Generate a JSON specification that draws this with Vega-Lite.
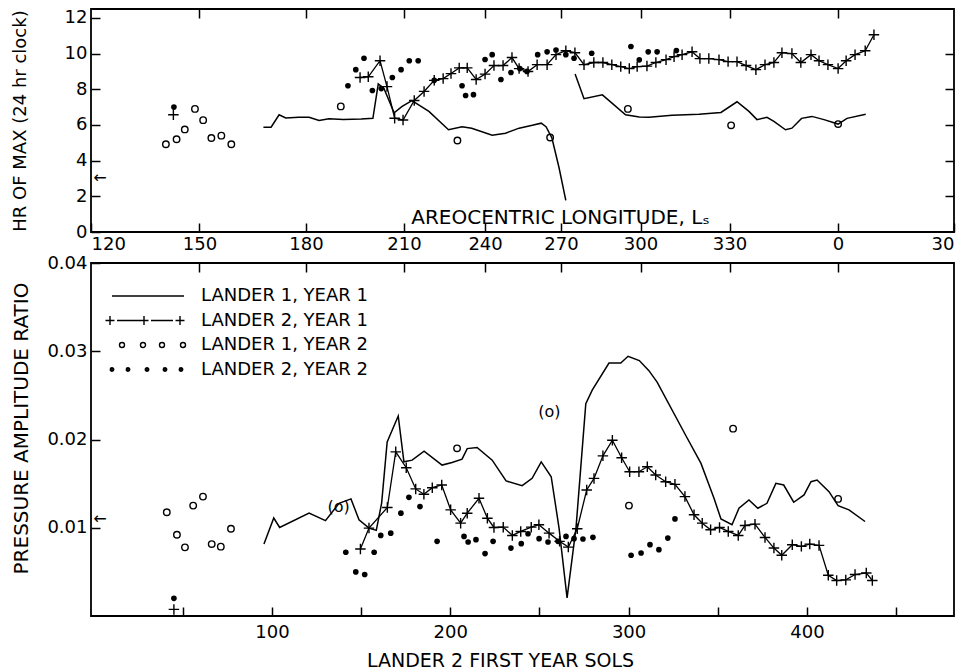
{
  "$schema": "https://vega.github.io/schema/vega-lite/v6.json",
  "autosize": {"type": "pad"},
  "padding": {"left": 10, "top": 7, "right": 5, "bottom": 5},
  "background": "white",
  "config": {
    "font": "DejaVu Sans",
    "view": {"stroke": "black", "strokeWidth": 1.8},
    "axis": {"domain": false, "grid": false, "labelColor": "black", "titleColor": "black", "tickColor": "black", "labelFont": "DejaVu Sans", "titleFont": "DejaVu Sans", "labelFontSize": 18, "titleFontSize": 18, "titleFontWeight": "normal", "tickWidth": 1.5, "labelOverlap": false, "labelBound": false},
    "text": {"font": "DejaVu Sans", "color": "black"}
  },
  "datasets": {
    "top": [
      {"s":95.2,"v":5.87,"k":"L1Y1","g":"a"},{"s":99.5,"v":5.87,"k":"L1Y1","g":"a"},{"s":104,"v":6.57,"k":"L1Y1","g":"a"},{"s":107.7,"v":6.39,"k":"L1Y1","g":"a"},{"s":115,"v":6.43,"k":"L1Y1","g":"a"},{"s":120.8,"v":6.43,"k":"L1Y1","g":"a"},{"s":126.4,"v":6.25,"k":"L1Y1","g":"a"},{"s":132,"v":6.35,"k":"L1Y1","g":"a"},{"s":140,"v":6.3,"k":"L1Y1","g":"a"},{"s":150,"v":6.33,"k":"L1Y1","g":"a"},{"s":156.6,"v":6.37,"k":"L1Y1","g":"a"},{"s":159.6,"v":8.3,"k":"L1Y1","g":"a"},{"s":162.8,"v":8.05,"k":"L1Y1","g":"a"},{"s":168.5,"v":6.68,"k":"L1Y1","g":"a"},{"s":173,"v":7.04,"k":"L1Y1","g":"a"},{"s":178.5,"v":7.37,"k":"L1Y1","g":"a"},{"s":188,"v":6.76,"k":"L1Y1","g":"a"},{"s":199,"v":5.73,"k":"L1Y1","g":"a"},{"s":206.6,"v":5.9,"k":"L1Y1","g":"a"},{"s":212,"v":5.82,"k":"L1Y1","g":"a"},{"s":223.5,"v":5.42,"k":"L1Y1","g":"a"},{"s":231,"v":5.54,"k":"L1Y1","g":"a"},{"s":238.6,"v":5.82,"k":"L1Y1","g":"a"},{"s":246,"v":5.98,"k":"L1Y1","g":"a"},{"s":251,"v":6.1,"k":"L1Y1","g":"a"},{"s":253.7,"v":5.9,"k":"L1Y1","g":"a"},{"s":257,"v":5.27,"k":"L1Y1","g":"a"},{"s":261,"v":3.6,"k":"L1Y1","g":"a"},{"s":264.8,"v":1.77,"k":"L1Y1","g":"a"},
      {"s":270,"v":8.85,"k":"L1Y1","g":"b"},{"s":275,"v":7.47,"k":"L1Y1","g":"b"},{"s":285.3,"v":7.69,"k":"L1Y1","g":"b"},{"s":298.3,"v":6.57,"k":"L1Y1","g":"b"},{"s":306,"v":6.45,"k":"L1Y1","g":"b"},{"s":311.4,"v":6.43,"k":"L1Y1","g":"b"},{"s":324.4,"v":6.54,"k":"L1Y1","g":"b"},{"s":339.5,"v":6.6,"k":"L1Y1","g":"b"},{"s":351.8,"v":6.7,"k":"L1Y1","g":"b"},{"s":360.8,"v":7.3,"k":"L1Y1","g":"b"},{"s":367.5,"v":6.76,"k":"L1Y1","g":"b"},{"s":372,"v":6.3,"k":"L1Y1","g":"b"},{"s":377.6,"v":6.43,"k":"L1Y1","g":"b"},{"s":381.5,"v":6.2,"k":"L1Y1","g":"b"},{"s":388,"v":5.73,"k":"L1Y1","g":"b"},{"s":391.6,"v":5.82,"k":"L1Y1","g":"b"},{"s":397,"v":6.37,"k":"L1Y1","g":"b"},{"s":402.8,"v":6.48,"k":"L1Y1","g":"b"},{"s":409.6,"v":6.3,"k":"L1Y1","g":"b"},{"s":417.5,"v":6.05,"k":"L1Y1","g":"b"},{"s":422.5,"v":6.37,"k":"L1Y1","g":"b"},{"s":433,"v":6.6,"k":"L1Y1","g":"b"},
      {"s":44.7,"v":6.57,"k":"L2Y1","g":"a"},
      {"s":149.4,"v":8.66,"k":"L2Y1","g":"b"},{"s":154,"v":8.7,"k":"L2Y1","g":"b"},{"s":160.6,"v":9.6,"k":"L2Y1","g":"b"},{"s":164.5,"v":8.15,"k":"L2Y1","g":"b"},{"s":168.8,"v":6.38,"k":"L2Y1","g":"b"},{"s":173.5,"v":6.28,"k":"L2Y1","g":"b"},{"s":179.8,"v":7.37,"k":"L2Y1","g":"b"},{"s":185.3,"v":7.88,"k":"L2Y1","g":"b"},{"s":191,"v":8.5,"k":"L2Y1","g":"b"},{"s":196,"v":8.6,"k":"L2Y1","g":"b"},{"s":200.4,"v":8.88,"k":"L2Y1","g":"b"},{"s":205,"v":9.2,"k":"L2Y1","g":"b"},{"s":209.5,"v":9.2,"k":"L2Y1","g":"b"},{"s":214.5,"v":8.55,"k":"L2Y1","g":"b"},{"s":219.5,"v":8.85,"k":"L2Y1","g":"b"},{"s":224.5,"v":9.33,"k":"L2Y1","g":"b"},{"s":229.6,"v":9.33,"k":"L2Y1","g":"b"},{"s":234.6,"v":9.78,"k":"L2Y1","g":"b"},{"s":238.6,"v":9.16,"k":"L2Y1","g":"b"},{"s":243.6,"v":9.0,"k":"L2Y1","g":"b"},{"s":248.7,"v":9.38,"k":"L2Y1","g":"b"},{"s":254.3,"v":9.38,"k":"L2Y1","g":"b"},{"s":259.3,"v":9.94,"k":"L2Y1","g":"b"},{"s":264.8,"v":10.16,"k":"L2Y1","g":"b"},{"s":269.9,"v":10.05,"k":"L2Y1","g":"b"},{"s":275,"v":9.38,"k":"L2Y1","g":"b"},{"s":280.5,"v":9.5,"k":"L2Y1","g":"b"},{"s":285.6,"v":9.5,"k":"L2Y1","g":"b"},{"s":290.6,"v":9.38,"k":"L2Y1","g":"b"},{"s":295.6,"v":9.27,"k":"L2Y1","g":"b"},{"s":300.4,"v":9.16,"k":"L2Y1","g":"b"},{"s":304.8,"v":9.27,"k":"L2Y1","g":"b"},{"s":310.3,"v":9.3,"k":"L2Y1","g":"b"},{"s":315.3,"v":9.5,"k":"L2Y1","g":"b"},{"s":321,"v":9.66,"k":"L2Y1","g":"b"},{"s":325.5,"v":9.83,"k":"L2Y1","g":"b"},{"s":330,"v":9.94,"k":"L2Y1","g":"b"},{"s":335.6,"v":10.1,"k":"L2Y1","g":"b"},{"s":340,"v":9.72,"k":"L2Y1","g":"b"},{"s":345,"v":9.72,"k":"L2Y1","g":"b"},{"s":350.7,"v":9.66,"k":"L2Y1","g":"b"},{"s":355.8,"v":9.55,"k":"L2Y1","g":"b"},{"s":360.8,"v":9.55,"k":"L2Y1","g":"b"},{"s":365.9,"v":9.33,"k":"L2Y1","g":"b"},{"s":371.4,"v":9.1,"k":"L2Y1","g":"b"},{"s":376.5,"v":9.38,"k":"L2Y1","g":"b"},{"s":381.5,"v":9.5,"k":"L2Y1","g":"b"},{"s":386,"v":10.05,"k":"L2Y1","g":"b"},{"s":391.6,"v":10.0,"k":"L2Y1","g":"b"},{"s":396.6,"v":9.5,"k":"L2Y1","g":"b"},{"s":402.3,"v":9.94,"k":"L2Y1","g":"b"},{"s":406.8,"v":9.6,"k":"L2Y1","g":"b"},{"s":411.8,"v":9.38,"k":"L2Y1","g":"b"},{"s":417.5,"v":9.16,"k":"L2Y1","g":"b"},{"s":422,"v":9.6,"k":"L2Y1","g":"b"},{"s":427,"v":9.94,"k":"L2Y1","g":"b"},{"s":432.7,"v":10.16,"k":"L2Y1","g":"b"},{"s":437.6,"v":11.06,"k":"L2Y1","g":"b"},
      {"s":40.5,"v":4.92,"k":"L1Y2"},{"s":46.5,"v":5.2,"k":"L1Y2"},{"s":51.1,"v":5.75,"k":"L1Y2"},{"s":56.8,"v":6.9,"k":"L1Y2"},{"s":61.4,"v":6.27,"k":"L1Y2"},{"s":66,"v":5.27,"k":"L1Y2"},{"s":71.6,"v":5.4,"k":"L1Y2"},{"s":77.2,"v":4.92,"k":"L1Y2"},{"s":138.6,"v":7.04,"k":"L1Y2"},{"s":204,"v":5.13,"k":"L1Y2"},{"s":256,"v":5.3,"k":"L1Y2"},{"s":299.6,"v":6.9,"k":"L1Y2"},{"s":357.5,"v":5.98,"k":"L1Y2"},{"s":417.5,"v":6.05,"k":"L1Y2"},
      {"s":45,"v":7.0,"k":"L2Y2"},{"s":142.6,"v":8.2,"k":"L2Y2"},{"s":147,"v":9.1,"k":"L2Y2"},{"s":151.6,"v":9.74,"k":"L2Y2"},{"s":156.3,"v":7.93,"k":"L2Y2"},{"s":161.3,"v":8.04,"k":"L2Y2"},{"s":167.5,"v":8.66,"k":"L2Y2"},{"s":172.4,"v":9.1,"k":"L2Y2"},{"s":177,"v":9.6,"k":"L2Y2"},{"s":182,"v":9.6,"k":"L2Y2"},{"s":191,"v":8.5,"k":"L2Y2"},{"s":206.6,"v":8.2,"k":"L2Y2"},{"s":208.6,"v":7.65,"k":"L2Y2"},{"s":213,"v":7.7,"k":"L2Y2"},{"s":219.5,"v":9.67,"k":"L2Y2"},{"s":223.5,"v":9.94,"k":"L2Y2"},{"s":228.4,"v":8.55,"k":"L2Y2"},{"s":234,"v":8.94,"k":"L2Y2"},{"s":239,"v":9.16,"k":"L2Y2"},{"s":243,"v":9.0,"k":"L2Y2"},{"s":249,"v":9.94,"k":"L2Y2"},{"s":254.3,"v":10.1,"k":"L2Y2"},{"s":259.3,"v":10.2,"k":"L2Y2"},{"s":264.8,"v":9.94,"k":"L2Y2"},{"s":269.4,"v":9.74,"k":"L2Y2"},{"s":279.3,"v":10.02,"k":"L2Y2"},{"s":301.3,"v":10.4,"k":"L2Y2"},{"s":306,"v":9.65,"k":"L2Y2"},{"s":311,"v":10.1,"k":"L2Y2"},{"s":316,"v":10.1,"k":"L2Y2"},{"s":326.8,"v":10.17,"k":"L2Y2"},
      {"s":3.5,"v":3.02,"k":"arrow"}
    ],
    "bot": [
      {"s":95.5,"v":0.00815,"k":"L1Y1","g":"a"},{"s":101,"v":0.0111,"k":"L1Y1","g":"a"},{"s":104.3,"v":0.01003,"k":"L1Y1","g":"a"},{"s":120.8,"v":0.01165,"k":"L1Y1","g":"a"},{"s":130,"v":0.0108,"k":"L1Y1","g":"a"},{"s":137.6,"v":0.01277,"k":"L1Y1","g":"a"},{"s":144.3,"v":0.01327,"k":"L1Y1","g":"a"},{"s":148.8,"v":0.0109,"k":"L1Y1","g":"a"},{"s":154.4,"v":0.00996,"k":"L1Y1","g":"a"},{"s":158.5,"v":0.0097,"k":"L1Y1","g":"a"},{"s":161.5,"v":0.0128,"k":"L1Y1","g":"a"},{"s":164.6,"v":0.01973,"k":"L1Y1","g":"a"},{"s":170.8,"v":0.02266,"k":"L1Y1","g":"a"},{"s":174,"v":0.01747,"k":"L1Y1","g":"a"},{"s":178.6,"v":0.01766,"k":"L1Y1","g":"a"},{"s":185.3,"v":0.01868,"k":"L1Y1","g":"a"},{"s":195.4,"v":0.0171,"k":"L1Y1","g":"a"},{"s":201,"v":0.0174,"k":"L1Y1","g":"a"},{"s":206.6,"v":0.01778,"k":"L1Y1","g":"a"},{"s":209.5,"v":0.01897,"k":"L1Y1","g":"a"},{"s":215,"v":0.01909,"k":"L1Y1","g":"a"},{"s":223.5,"v":0.01766,"k":"L1Y1","g":"a"},{"s":231.3,"v":0.0153,"k":"L1Y1","g":"a"},{"s":240.3,"v":0.01477,"k":"L1Y1","g":"a"},{"s":245.9,"v":0.0156,"k":"L1Y1","g":"a"},{"s":251,"v":0.01747,"k":"L1Y1","g":"a"},{"s":256.6,"v":0.01578,"k":"L1Y1","g":"a"},{"s":261,"v":0.00996,"k":"L1Y1","g":"a"},{"s":265.5,"v":0.00206,"k":"L1Y1","g":"a"},{"s":270.5,"v":0.00996,"k":"L1Y1","g":"a"},{"s":276,"v":0.02405,"k":"L1Y1","g":"a"},{"s":279.6,"v":0.0256,"k":"L1Y1","g":"a"},{"s":289,"v":0.02867,"k":"L1Y1","g":"a"},{"s":295.6,"v":0.02867,"k":"L1Y1","g":"a"},{"s":299.7,"v":0.02943,"k":"L1Y1","g":"a"},{"s":306,"v":0.02894,"k":"L1Y1","g":"a"},{"s":311.4,"v":0.0278,"k":"L1Y1","g":"a"},{"s":316,"v":0.0265,"k":"L1Y1","g":"a"},{"s":332,"v":0.02048,"k":"L1Y1","g":"a"},{"s":340.6,"v":0.01729,"k":"L1Y1","g":"a"},{"s":347.9,"v":0.01334,"k":"L1Y1","g":"a"},{"s":351.8,"v":0.011,"k":"L1Y1","g":"a"},{"s":358,"v":0.01034,"k":"L1Y1","g":"a"},{"s":361.9,"v":0.01221,"k":"L1Y1","g":"a"},{"s":367.5,"v":0.01315,"k":"L1Y1","g":"a"},{"s":372.5,"v":0.01221,"k":"L1Y1","g":"a"},{"s":377.6,"v":0.01277,"k":"L1Y1","g":"a"},{"s":382.6,"v":0.01503,"k":"L1Y1","g":"a"},{"s":387,"v":0.01484,"k":"L1Y1","g":"a"},{"s":392.6,"v":0.01289,"k":"L1Y1","g":"a"},{"s":398.4,"v":0.01372,"k":"L1Y1","g":"a"},{"s":402.3,"v":0.01522,"k":"L1Y1","g":"a"},{"s":405.7,"v":0.01541,"k":"L1Y1","g":"a"},{"s":412.4,"v":0.01409,"k":"L1Y1","g":"a"},{"s":417.5,"v":0.01251,"k":"L1Y1","g":"a"},{"s":423.6,"v":0.01203,"k":"L1Y1","g":"a"},{"s":432.6,"v":0.01071,"k":"L1Y1","g":"a"},
      {"s":45,"v":0.00075,"k":"L2Y1","g":"a"},
      {"s":149.6,"v":0.00759,"k":"L2Y1","g":"b"},{"s":154.4,"v":0.00996,"k":"L2Y1","g":"b"},{"s":164.7,"v":0.01229,"k":"L2Y1","g":"b"},{"s":169.4,"v":0.0186,"k":"L2Y1","g":"b"},{"s":175.3,"v":0.0168,"k":"L2Y1","g":"b"},{"s":180.6,"v":0.0144,"k":"L2Y1","g":"b"},{"s":185.2,"v":0.01379,"k":"L2Y1","g":"b"},{"s":189.9,"v":0.01454,"k":"L2Y1","g":"b"},{"s":195.2,"v":0.01485,"k":"L2Y1","g":"b"},{"s":200.2,"v":0.01203,"k":"L2Y1","g":"b"},{"s":205.8,"v":0.01052,"k":"L2Y1","g":"b"},{"s":209.5,"v":0.01165,"k":"L2Y1","g":"b"},{"s":216.1,"v":0.01334,"k":"L2Y1","g":"b"},{"s":220.8,"v":0.01108,"k":"L2Y1","g":"b"},{"s":224.5,"v":0.01003,"k":"L2Y1","g":"b"},{"s":229.7,"v":0.01007,"k":"L2Y1","g":"b"},{"s":234.8,"v":0.00913,"k":"L2Y1","g":"b"},{"s":239.5,"v":0.00958,"k":"L2Y1","g":"b"},{"s":245.4,"v":0.01007,"k":"L2Y1","g":"b"},{"s":249.7,"v":0.01034,"k":"L2Y1","g":"b"},{"s":255.4,"v":0.00939,"k":"L2Y1","g":"b"},{"s":261.3,"v":0.00846,"k":"L2Y1","g":"b"},{"s":266.2,"v":0.00781,"k":"L2Y1","g":"b"},{"s":271.2,"v":0.00989,"k":"L2Y1","g":"b"},{"s":276.5,"v":0.01428,"k":"L2Y1","g":"b"},{"s":280.6,"v":0.01559,"k":"L2Y1","g":"b"},{"s":285.6,"v":0.01815,"k":"L2Y1","g":"b"},{"s":290.9,"v":0.01992,"k":"L2Y1","g":"b"},{"s":296.1,"v":0.01793,"k":"L2Y1","g":"b"},{"s":300.6,"v":0.01635,"k":"L2Y1","g":"b"},{"s":305.8,"v":0.01635,"k":"L2Y1","g":"b"},{"s":310.5,"v":0.01691,"k":"L2Y1","g":"b"},{"s":315.2,"v":0.01598,"k":"L2Y1","g":"b"},{"s":320.8,"v":0.01522,"k":"L2Y1","g":"b"},{"s":326,"v":0.01492,"k":"L2Y1","g":"b"},{"s":331.6,"v":0.01353,"k":"L2Y1","g":"b"},{"s":336.7,"v":0.01147,"k":"L2Y1","g":"b"},{"s":341.3,"v":0.01052,"k":"L2Y1","g":"b"},{"s":346,"v":0.00977,"k":"L2Y1","g":"b"},{"s":351,"v":0.01003,"k":"L2Y1","g":"b"},{"s":355.9,"v":0.00958,"k":"L2Y1","g":"b"},{"s":361.5,"v":0.00913,"k":"L2Y1","g":"b"},{"s":365.3,"v":0.01026,"k":"L2Y1","g":"b"},{"s":370.9,"v":0.01041,"k":"L2Y1","g":"b"},{"s":376.5,"v":0.0089,"k":"L2Y1","g":"b"},{"s":381.5,"v":0.0077,"k":"L2Y1","g":"b"},{"s":385.9,"v":0.00688,"k":"L2Y1","g":"b"},{"s":391.8,"v":0.00808,"k":"L2Y1","g":"b"},{"s":396.9,"v":0.00789,"k":"L2Y1","g":"b"},{"s":401.6,"v":0.00815,"k":"L2Y1","g":"b"},{"s":406.8,"v":0.008,"k":"L2Y1","g":"b"},{"s":412,"v":0.00462,"k":"L2Y1","g":"b"},{"s":416.7,"v":0.00402,"k":"L2Y1","g":"b"},{"s":421.8,"v":0.00409,"k":"L2Y1","g":"b"},{"s":427,"v":0.0047,"k":"L2Y1","g":"b"},{"s":433.3,"v":0.00488,"k":"L2Y1","g":"b"},{"s":436.7,"v":0.00402,"k":"L2Y1","g":"b"},
      {"s":41,"v":0.01176,"k":"L1Y2"},{"s":46.7,"v":0.00921,"k":"L1Y2"},{"s":51.2,"v":0.00778,"k":"L1Y2"},{"s":55.8,"v":0.01251,"k":"L1Y2"},{"s":61.3,"v":0.01353,"k":"L1Y2"},{"s":66.2,"v":0.00815,"k":"L1Y2"},{"s":71.3,"v":0.00786,"k":"L1Y2"},{"s":77,"v":0.00989,"k":"L1Y2"},{"s":203.8,"v":0.019,"k":"L1Y2"},{"s":300.2,"v":0.01251,"k":"L1Y2"},{"s":358.6,"v":0.02123,"k":"L1Y2"},{"s":417.5,"v":0.01327,"k":"L1Y2"},
      {"s":137.4,"v":0.0124,"k":"paren"},{"s":255.6,"v":0.0231,"k":"paren"},
      {"s":45,"v":0.002,"k":"L2Y2"},{"s":141.4,"v":0.00722,"k":"L2Y2"},{"s":147,"v":0.005,"k":"L2Y2"},{"s":152,"v":0.0047,"k":"L2Y2"},{"s":157.3,"v":0.00722,"k":"L2Y2"},{"s":161,"v":0.00913,"k":"L2Y2"},{"s":166.6,"v":0.00939,"k":"L2Y2"},{"s":172.3,"v":0.01165,"k":"L2Y2"},{"s":176.8,"v":0.01345,"k":"L2Y2"},{"s":183,"v":0.0124,"k":"L2Y2"},{"s":192.6,"v":0.00846,"k":"L2Y2"},{"s":207.7,"v":0.00902,"k":"L2Y2"},{"s":210,"v":0.00838,"k":"L2Y2"},{"s":214.4,"v":0.00865,"k":"L2Y2"},{"s":219.5,"v":0.00707,"k":"L2Y2"},{"s":224,"v":0.00846,"k":"L2Y2"},{"s":234,"v":0.0077,"k":"L2Y2"},{"s":239.8,"v":0.0082,"k":"L2Y2"},{"s":243.6,"v":0.00932,"k":"L2Y2"},{"s":249.8,"v":0.00876,"k":"L2Y2"},{"s":254.8,"v":0.00838,"k":"L2Y2"},{"s":260.4,"v":0.00846,"k":"L2Y2"},{"s":264.9,"v":0.00902,"k":"L2Y2"},{"s":269.4,"v":0.00876,"k":"L2Y2"},{"s":274.4,"v":0.00872,"k":"L2Y2"},{"s":280,"v":0.00891,"k":"L2Y2"},{"s":301.4,"v":0.00688,"k":"L2Y2"},{"s":307,"v":0.00714,"k":"L2Y2"},{"s":312,"v":0.00808,"k":"L2Y2"},{"s":317,"v":0.00752,"k":"L2Y2"},{"s":322,"v":0.00883,"k":"L2Y2"},{"s":326,"v":0.011,"k":"L2Y2"},
      {"s":3.5,"v":0.011,"k":"arrow"}
    ]
  },
  "bounds": "flush",
  "spacing": 31,
  "resolve": {"scale": {"shape": "independent"}, "legend": {"shape": "independent"}},
  "vconcat": [
    {
      "width": 863,
      "height": 223,
      "data": {"name": "top"},
      "resolve": {"axis": {"x": "independent", "y": "independent"}},
      "layer": [
        {
          "transform": [{"filter": "datum.k == 'L1Y1'"}],
          "mark": {"type": "line", "color": "black", "strokeWidth": 1.5},
          "encoding": {
            "x": {"field": "s", "type": "quantitative", "scale": {"domain": [-1.5, 482.5], "nice": false, "zero": false},
              "axis": {"orient": "bottom", "values": [-1.5, 59.3, 119.1, 174, 219.5, 262.1, 306.7, 356.6, 417.4, 482.5],
                "labelExpr": "['120','150','180','210','240','270','300','330','0','30'][indexof([-1,59,119,174,220,262,307,357,417,483], round(datum.value))]",
                "tickSize": -9, "labelPadding": 12, "labelFlush": true,
                "title": "AREOCENTRIC LONGITUDE, Lₛ", "titleFontSize": 20, "titleX": 469, "titleY": -9, "titleBaseline": "alphabetic", "titleAlign": "center"}},
            "y": {"field": "v", "type": "quantitative", "scale": {"domain": [0, 12.5], "nice": false, "zero": false},
              "axis": {"orient": "left", "values": [0, 2, 4, 6, 8, 10, 12], "tickSize": -9, "labelPadding": 13, "title": "HR OF MAX (24 hr clock)", "titleX": -62, "titleFontSize": 18}},
            "detail": {"field": "g"}
          }
        },
        {
          "transform": [{"filter": "datum.k == 'L2Y1'"}],
          "mark": {"type": "line", "color": "black", "strokeWidth": 1.3},
          "encoding": {
            "x": {"field": "s", "type": "quantitative", "scale": {"domain": [-1.5, 482.5], "nice": false, "zero": false},
              "axis": {"orient": "top", "values": [59.3, 119.1, 174, 219.5, 262.1, 306.7, 356.6, 417.4], "labels": false, "tickSize": -9, "title": null}},
            "y": {"field": "v", "type": "quantitative", "scale": {"domain": [0, 12.5], "nice": false, "zero": false},
              "axis": {"orient": "right", "values": [2, 4, 6, 8, 10], "labels": false, "tickSize": -9, "title": null}},
            "detail": {"field": "g"}
          }
        },
        {
          "transform": [{"filter": "datum.k == 'L2Y1'"}],
          "mark": {"type": "point", "shape": "M-1,0H1M0,-1V1", "size": 110, "color": "black", "strokeWidth": 1.4, "filled": false, "opacity": 1},
          "encoding": {
            "x": {"field": "s", "type": "quantitative", "scale": {"domain": [-1.5, 482.5], "nice": false, "zero": false}, "axis": null},
            "y": {"field": "v", "type": "quantitative", "scale": {"domain": [0, 12.5], "nice": false, "zero": false}, "axis": null}
          }
        },
        {
          "transform": [{"filter": "datum.k == 'L1Y2'"}],
          "mark": {"type": "point", "shape": "circle", "size": 42, "color": "black", "strokeWidth": 1.4, "filled": false, "opacity": 1},
          "encoding": {
            "x": {"field": "s", "type": "quantitative", "scale": {"domain": [-1.5, 482.5], "nice": false, "zero": false}, "axis": null},
            "y": {"field": "v", "type": "quantitative", "scale": {"domain": [0, 12.5], "nice": false, "zero": false}, "axis": null}
          }
        },
        {
          "transform": [{"filter": "datum.k == 'L2Y2'"}],
          "mark": {"type": "circle", "size": 32, "color": "black", "opacity": 1},
          "encoding": {
            "x": {"field": "s", "type": "quantitative", "scale": {"domain": [-1.5, 482.5], "nice": false, "zero": false}, "axis": null},
            "y": {"field": "v", "type": "quantitative", "scale": {"domain": [0, 12.5], "nice": false, "zero": false}, "axis": null}
          }
        },
        {
          "transform": [{"filter": "datum.k == 'arrow'"}],
          "mark": {"type": "text", "text": "←", "fontSize": 16, "align": "center", "baseline": "middle", "color": "black"},
          "encoding": {
            "x": {"field": "s", "type": "quantitative", "scale": {"domain": [-1.5, 482.5], "nice": false, "zero": false}, "axis": null},
            "y": {"field": "v", "type": "quantitative", "scale": {"domain": [0, 12.5], "nice": false, "zero": false}, "axis": null}
          }
        }
      ]
    },
    {
      "width": 863,
      "height": 353,
      "data": {"name": "bot"},
      "resolve": {"axis": {"x": "independent", "y": "independent"}},
      "layer": [
        {
          "transform": [{"filter": "datum.k == 'L1Y1'"}],
          "mark": {"type": "line", "color": "black", "strokeWidth": 1.5},
          "encoding": {
            "x": {"field": "s", "type": "quantitative", "scale": {"domain": [-1.5, 482.5], "nice": false, "zero": false},
              "axis": {"orient": "bottom", "values": [50, 100, 150, 200, 250, 300, 350, 400, 450],
                "labelExpr": "datum.value >= 100 && datum.value <= 400 && datum.value % 100 == 0 ? datum.label : ''",
                "tickSize": -9, "labelPadding": 16,
                "title": "LANDER 2 FIRST YEAR SOLS", "titleFontSize": 19, "titleX": 409, "titleY": 50, "titleBaseline": "alphabetic", "titleAlign": "center"}},
            "y": {"field": "v", "type": "quantitative", "scale": {"domain": [0, 0.04], "nice": false, "zero": false},
              "axis": {"orient": "left", "values": [0.01, 0.02, 0.03, 0.04], "format": ".2f", "tickSize": -9, "labelPadding": 13, "title": "PRESSURE AMPLITUDE RATIO", "titleFontSize": 20, "titleX": -60, "titleY": 165}},
            "detail": {"field": "g"}
          }
        },
        {
          "transform": [{"filter": "datum.k == 'L2Y1'"}],
          "mark": {"type": "line", "color": "black", "strokeWidth": 1.3},
          "encoding": {
            "x": {"field": "s", "type": "quantitative", "scale": {"domain": [-1.5, 482.5], "nice": false, "zero": false},
              "axis": {"orient": "top", "values": [59.3, 119.1, 174, 219.5, 262.1, 306.7, 356.6, 417.4], "labels": false, "tickSize": -9, "title": null}},
            "y": {"field": "v", "type": "quantitative", "scale": {"domain": [0, 0.04], "nice": false, "zero": false}, "axis": null},
            "detail": {"field": "g"}
          }
        },
        {
          "transform": [{"filter": "datum.k == 'L2Y1'"}],
          "mark": {"type": "point", "shape": "M-1,0H1M0,-1V1", "size": 110, "color": "black", "strokeWidth": 1.4, "filled": false, "opacity": 1},
          "encoding": {
            "x": {"field": "s", "type": "quantitative", "scale": {"domain": [-1.5, 482.5], "nice": false, "zero": false}, "axis": null},
            "y": {"field": "v", "type": "quantitative", "scale": {"domain": [0, 0.04], "nice": false, "zero": false}, "axis": null}
          }
        },
        {
          "transform": [{"filter": "datum.k == 'L1Y2'"}],
          "mark": {"type": "point", "shape": "circle", "size": 42, "color": "black", "strokeWidth": 1.4, "filled": false, "opacity": 1},
          "encoding": {
            "x": {"field": "s", "type": "quantitative", "scale": {"domain": [-1.5, 482.5], "nice": false, "zero": false}, "axis": null},
            "y": {"field": "v", "type": "quantitative", "scale": {"domain": [0, 0.04], "nice": false, "zero": false}, "axis": null}
          }
        },
        {
          "transform": [{"filter": "datum.k == 'L2Y2'"}],
          "mark": {"type": "circle", "size": 32, "color": "black", "opacity": 1},
          "encoding": {
            "x": {"field": "s", "type": "quantitative", "scale": {"domain": [-1.5, 482.5], "nice": false, "zero": false}, "axis": null},
            "y": {"field": "v", "type": "quantitative", "scale": {"domain": [0, 0.04], "nice": false, "zero": false}, "axis": null}
          }
        },
        {
          "transform": [{"filter": "datum.k == 'paren'"}],
          "mark": {"type": "text", "text": "(o)", "fontSize": 16, "align": "center", "baseline": "middle", "color": "black"},
          "encoding": {
            "x": {"field": "s", "type": "quantitative", "scale": {"domain": [-1.5, 482.5], "nice": false, "zero": false}, "axis": null},
            "y": {"field": "v", "type": "quantitative", "scale": {"domain": [0, 0.04], "nice": false, "zero": false}, "axis": null}
          }
        },
        {
          "transform": [{"filter": "datum.k == 'arrow'"}],
          "mark": {"type": "text", "text": "←", "fontSize": 16, "align": "center", "baseline": "middle", "color": "black"},
          "encoding": {
            "x": {"field": "s", "type": "quantitative", "scale": {"domain": [-1.5, 482.5], "nice": false, "zero": false}, "axis": null},
            "y": {"field": "v", "type": "quantitative", "scale": {"domain": [0, 0.04], "nice": false, "zero": false}, "axis": null}
          }
        },
        {
          "transform": [{"filter": "false"}],
          "mark": {"type": "point", "color": "black", "filled": false, "opacity": 1},
          "encoding": {
            "shape": {"field": "k", "type": "nominal",
              "scale": {"domain": ["L1Y1", "L2Y1", "L1Y2", "L2Y2"],
                "range": [
                  "M-7,0H7.4",
                  "M-8.3,0H-6.5M-7.4,-0.9V0.9M-6,0H-1.2M-1.5,0H0.3M-0.6,-0.9V0.9M0.8,0H5.2M5.7,0H7.5M6.6,-0.9V0.9",
                  "M-5.5,0a0.5,0.5 0 1,0 1,0a0.5,0.5 0 1,0 -1,0M-1.3,0a0.5,0.5 0 1,0 1,0a0.5,0.5 0 1,0 -1,0M2.5,0a0.5,0.5 0 1,0 1,0a0.5,0.5 0 1,0 -1,0M6.7,0a0.5,0.5 0 1,0 1,0a0.5,0.5 0 1,0 -1,0",
                  "M-7.35,0a0.35,0.35 0 1,0 0.7,0a0.35,0.35 0 1,0 -0.7,0M-7.18,0a0.18,0.18 0 1,0 0.36,0a0.18,0.18 0 1,0 -0.36,0M-4.15,0a0.35,0.35 0 1,0 0.7,0a0.35,0.35 0 1,0 -0.7,0M-3.98,0a0.18,0.18 0 1,0 0.36,0a0.18,0.18 0 1,0 -0.36,0M-0.35,0a0.35,0.35 0 1,0 0.7,0a0.35,0.35 0 1,0 -0.7,0M-0.18,0a0.18,0.18 0 1,0 0.36,0a0.18,0.18 0 1,0 -0.36,0M3.25,0a0.35,0.35 0 1,0 0.7,0a0.35,0.35 0 1,0 -0.7,0M3.42,0a0.18,0.18 0 1,0 0.36,0a0.18,0.18 0 1,0 -0.36,0M6.45,0a0.35,0.35 0 1,0 0.7,0a0.35,0.35 0 1,0 -0.7,0M6.62,0a0.18,0.18 0 1,0 0.36,0a0.18,0.18 0 1,0 -0.36,0"
                ]},
              "legend": {"orient": "none", "legendX": 47, "legendY": 24, "title": null, "symbolSize": 100, "symbolStrokeWidth": 1.4, "symbolStrokeColor": "black", "symbolFillColor": "transparent",
                "labelFontSize": 18, "labelFont": "DejaVu Sans", "labelColor": "black", "labelOffset": 45, "rowPadding": 6.5, "padding": 0, "labelLimit": 400,
                "labelExpr": "['LANDER 1, YEAR 1','LANDER 2, YEAR 1','LANDER 1, YEAR 2','LANDER 2, YEAR 2'][indexof(['L1Y1','L2Y1','L1Y2','L2Y2'], datum.value)]"}
            }
          }
        }
      ]
    }
  ]
}
